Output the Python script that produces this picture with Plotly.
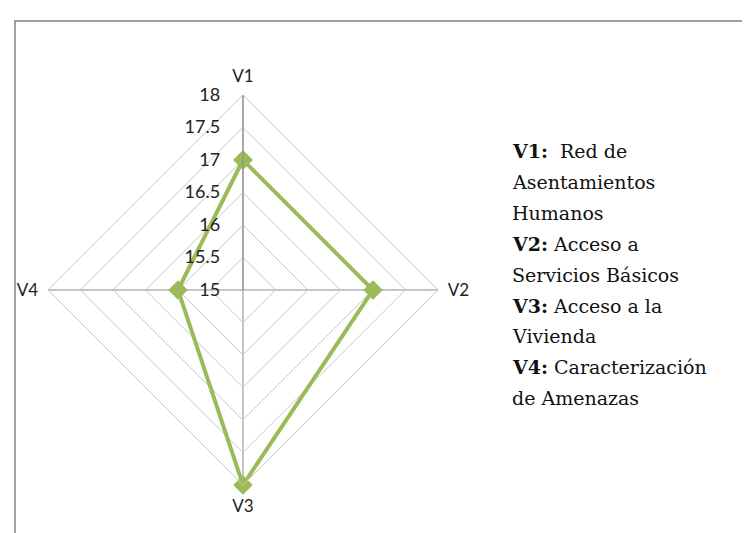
import plotly.graph_objects as go

categories = ['V1', 'V2', 'V3', 'V4']
values = [17, 17, 18, 16]
radial_ticks = [15, 15.5, 16, 16.5, 17, 17.5, 18]

legend_lines = [
    '<b>V1:</b>  Red de',
    'Asentamientos',
    'Humanos',
    '<b>V2:</b> Acceso a',
    'Servicios Básicos',
    '<b>V3:</b> Acceso a la',
    'Vivienda',
    '<b>V4:</b> Caracterización',
    'de Amenazas',
]

green = '#9BBB59'

fig = go.Figure()
fig.add_trace(go.Scatterpolar(
    r=values + values[:1],
    theta=categories + categories[:1],
    mode='lines+markers',
    line=dict(color=green, width=4),
    marker=dict(symbol='diamond', size=15, color=green),
    showlegend=False,
))

fig.update_layout(
    width=750, height=533,
    margin=dict(l=0, r=0, t=0, b=0),
    paper_bgcolor='white',
    font=dict(family='Lato, Open Sans, sans-serif', size=16, color='#222'),
    polar=dict(
        domain=dict(x=[0.0533, 0.5733], y=[0.1051, 0.8368]),
        bgcolor='white',
        gridshape='linear',
        radialaxis=dict(
            range=[15, 18],
            tickvals=radial_ticks,
            ticktext=[f'{v:g}' for v in radial_ticks],
            angle=90,
            tickangle=90,
            side='counterclockwise',
            showline=True,
            linecolor='#8C8C8C',
            linewidth=1,
            gridcolor='#C8C8C8',
            gridwidth=1,
            ticks='outside',
            ticklen=16,
            tickcolor='rgba(0,0,0,0)',
            tickfont=dict(size=18, color='#222'),
        ),
        angularaxis=dict(
            rotation=90,
            direction='clockwise',
            showline=True,
            linecolor='#C8C8C8',
            gridcolor='#8C8C8C',
            ticks='outside',
            ticklen=6,
            tickcolor='rgba(0,0,0,0)',
            tickfont=dict(size=17, color='#222'),
        ),
    ),
)

# marco exterior
fig.add_shape(type='rect', xref='paper', yref='paper',
              x0=0.0093, x1=1.01, y0=-0.01, y1=0.9756,
              line=dict(color='#808080', width=1.5))

# texto explicativo a la derecha
for i, line in enumerate(legend_lines):
    fig.add_annotation(
        xref='paper', yref='paper',
        x=502 / 750, y=1 - (143 + i * 30.9) / 533,
        text=line, showarrow=False,
        xanchor='left', yanchor='middle',
        font=dict(family='DejaVu Serif', size=19, color='#111'),
    )

fig.write_html('out.html')
